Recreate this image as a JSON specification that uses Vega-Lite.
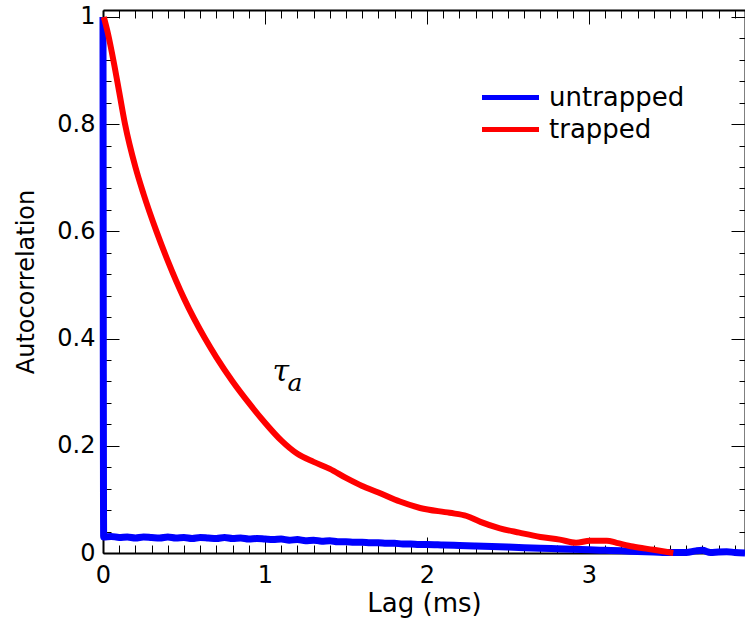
{
  "$schema": "https://vega.github.io/schema/vega-lite/v6.json",
  "width": 642,
  "height": 543,
  "autosize": {"type": "none"},
  "padding": {"left": 103, "top": 10, "right": 0, "bottom": 69},
  "background": "white",
  "config": {
    "view": {"stroke": null},
    "axis": {"domainColor": "black", "domainWidth": 2, "tickColor": "black", "tickWidth": 1, "labelColor": "black", "titleColor": "black", "labelFont": "DejaVu Sans", "titleFont": "DejaVu Sans", "grid": false, "labelOverlap": false, "labelFlush": false}
  },
  "datasets": {
    "curves": [
      {"lag": 0, "r": 1.0, "series": "untrapped"},
      {"lag": 0.004, "r": 0.03, "series": "untrapped"},
      {"lag": 0.05, "r": 0.031, "series": "untrapped"},
      {"lag": 0.1, "r": 0.029, "series": "untrapped"},
      {"lag": 0.15, "r": 0.03, "series": "untrapped"},
      {"lag": 0.2, "r": 0.028, "series": "untrapped"},
      {"lag": 0.25, "r": 0.03, "series": "untrapped"},
      {"lag": 0.3, "r": 0.029, "series": "untrapped"},
      {"lag": 0.35, "r": 0.028, "series": "untrapped"},
      {"lag": 0.4, "r": 0.03, "series": "untrapped"},
      {"lag": 0.45, "r": 0.028, "series": "untrapped"},
      {"lag": 0.5, "r": 0.029, "series": "untrapped"},
      {"lag": 0.55, "r": 0.027, "series": "untrapped"},
      {"lag": 0.6, "r": 0.029, "series": "untrapped"},
      {"lag": 0.65, "r": 0.028, "series": "untrapped"},
      {"lag": 0.7, "r": 0.027, "series": "untrapped"},
      {"lag": 0.75, "r": 0.029, "series": "untrapped"},
      {"lag": 0.8, "r": 0.027, "series": "untrapped"},
      {"lag": 0.85, "r": 0.028, "series": "untrapped"},
      {"lag": 0.9, "r": 0.026, "series": "untrapped"},
      {"lag": 0.95, "r": 0.027, "series": "untrapped"},
      {"lag": 1.0, "r": 0.026, "series": "untrapped"},
      {"lag": 1.05, "r": 0.025, "series": "untrapped"},
      {"lag": 1.1, "r": 0.026, "series": "untrapped"},
      {"lag": 1.15, "r": 0.024, "series": "untrapped"},
      {"lag": 1.2, "r": 0.025, "series": "untrapped"},
      {"lag": 1.25, "r": 0.023, "series": "untrapped"},
      {"lag": 1.3, "r": 0.024, "series": "untrapped"},
      {"lag": 1.35, "r": 0.022, "series": "untrapped"},
      {"lag": 1.4, "r": 0.023, "series": "untrapped"},
      {"lag": 1.45, "r": 0.021, "series": "untrapped"},
      {"lag": 1.5, "r": 0.021, "series": "untrapped"},
      {"lag": 1.55, "r": 0.02, "series": "untrapped"},
      {"lag": 1.6, "r": 0.02, "series": "untrapped"},
      {"lag": 1.65, "r": 0.019, "series": "untrapped"},
      {"lag": 1.7, "r": 0.019, "series": "untrapped"},
      {"lag": 1.75, "r": 0.018, "series": "untrapped"},
      {"lag": 1.8, "r": 0.018, "series": "untrapped"},
      {"lag": 1.85, "r": 0.017, "series": "untrapped"},
      {"lag": 1.9, "r": 0.017, "series": "untrapped"},
      {"lag": 1.95, "r": 0.016, "series": "untrapped"},
      {"lag": 2.0, "r": 0.016, "series": "untrapped"},
      {"lag": 2.1, "r": 0.015, "series": "untrapped"},
      {"lag": 2.2, "r": 0.014, "series": "untrapped"},
      {"lag": 2.3, "r": 0.013, "series": "untrapped"},
      {"lag": 2.4, "r": 0.012, "series": "untrapped"},
      {"lag": 2.5, "r": 0.011, "series": "untrapped"},
      {"lag": 2.6, "r": 0.01, "series": "untrapped"},
      {"lag": 2.7, "r": 0.009, "series": "untrapped"},
      {"lag": 2.8, "r": 0.008, "series": "untrapped"},
      {"lag": 2.9, "r": 0.007, "series": "untrapped"},
      {"lag": 3.0, "r": 0.006, "series": "untrapped"},
      {"lag": 3.1, "r": 0.005, "series": "untrapped"},
      {"lag": 3.2, "r": 0.004, "series": "untrapped"},
      {"lag": 3.3, "r": 0.003, "series": "untrapped"},
      {"lag": 3.4, "r": 0.002, "series": "untrapped"},
      {"lag": 3.5, "r": 0.001, "series": "untrapped"},
      {"lag": 3.6, "r": 0.001, "series": "untrapped"},
      {"lag": 3.66, "r": 0.004, "series": "untrapped"},
      {"lag": 3.7, "r": 0.005, "series": "untrapped"},
      {"lag": 3.75, "r": 0.001, "series": "untrapped"},
      {"lag": 3.8, "r": 0.002, "series": "untrapped"},
      {"lag": 3.85, "r": 0.0025, "series": "untrapped"},
      {"lag": 3.9, "r": 0.001, "series": "untrapped"},
      {"lag": 3.963, "r": 0.0, "series": "untrapped"},
      {"lag": 0.005, "r": 1.0, "series": "trapped"},
      {"lag": 0.03, "r": 0.97, "series": "trapped"},
      {"lag": 0.07, "r": 0.91, "series": "trapped"},
      {"lag": 0.1, "r": 0.86, "series": "trapped"},
      {"lag": 0.136, "r": 0.8, "series": "trapped"},
      {"lag": 0.2, "r": 0.72, "series": "trapped"},
      {"lag": 0.25, "r": 0.67, "series": "trapped"},
      {"lag": 0.33, "r": 0.6, "series": "trapped"},
      {"lag": 0.4, "r": 0.545, "series": "trapped"},
      {"lag": 0.5, "r": 0.475, "series": "trapped"},
      {"lag": 0.63, "r": 0.4, "series": "trapped"},
      {"lag": 0.7, "r": 0.365, "series": "trapped"},
      {"lag": 0.8, "r": 0.32, "series": "trapped"},
      {"lag": 0.9, "r": 0.28, "series": "trapped"},
      {"lag": 1.0, "r": 0.243, "series": "trapped"},
      {"lag": 1.1, "r": 0.21, "series": "trapped"},
      {"lag": 1.2, "r": 0.185, "series": "trapped"},
      {"lag": 1.3, "r": 0.17, "series": "trapped"},
      {"lag": 1.4, "r": 0.157, "series": "trapped"},
      {"lag": 1.5, "r": 0.14, "series": "trapped"},
      {"lag": 1.6, "r": 0.125, "series": "trapped"},
      {"lag": 1.7, "r": 0.113, "series": "trapped"},
      {"lag": 1.833, "r": 0.096, "series": "trapped"},
      {"lag": 1.957, "r": 0.084, "series": "trapped"},
      {"lag": 2.14, "r": 0.075, "series": "trapped"},
      {"lag": 2.245, "r": 0.069, "series": "trapped"},
      {"lag": 2.33, "r": 0.058, "series": "trapped"},
      {"lag": 2.45, "r": 0.046, "series": "trapped"},
      {"lag": 2.57, "r": 0.038, "series": "trapped"},
      {"lag": 2.7, "r": 0.03, "series": "trapped"},
      {"lag": 2.82, "r": 0.025, "series": "trapped"},
      {"lag": 2.92, "r": 0.019, "series": "trapped"},
      {"lag": 3.006, "r": 0.023, "series": "trapped"},
      {"lag": 3.11, "r": 0.023, "series": "trapped"},
      {"lag": 3.17, "r": 0.019, "series": "trapped"},
      {"lag": 3.27, "r": 0.012, "series": "trapped"},
      {"lag": 3.4, "r": 0.006, "series": "trapped"},
      {"lag": 3.52, "r": 0.0, "series": "trapped"}
    ]
  },
  "layer": [
    {
      "data": {"name": "curves"},
      "transform": [{"filter": "datum.series == 'untrapped'"}],
      "mark": {"type": "line", "interpolate": "monotone", "strokeWidth": 7},
      "encoding": {
        "x": {
          "field": "lag", "type": "quantitative",
          "scale": {"domain": [0, 3.963], "nice": false, "zero": false},
          "axis": {
            "orient": "bottom", "title": "Lag (ms)", "titleFontSize": 26, "titleFontWeight": "normal", "titlePadding": -5,
            "labelFontSize": 24, "labelPadding": 26,
            "values": [0,0.1,0.2,0.3,0.4,0.5,0.6,0.7,0.8,0.9,1,1.1,1.2,1.3,1.4,1.5,1.6,1.7,1.8,1.9,2,2.1,2.2,2.3,2.4,2.5,2.6,2.7,2.8,2.9,3,3.1,3.2,3.3,3.4,3.5,3.6,3.7,3.8,3.9],
            "labelExpr": "datum.value % 1 == 0 ? format(datum.value, 'd') : ''",
            "tickSize": {"condition": {"test": "datum.value % 1 == 0", "value": -16}, "value": -8}
          }
        },
        "y": {
          "field": "r", "type": "quantitative",
          "scale": {"domain": [0, 1.013], "nice": false, "zero": false},
          "axis": {
            "orient": "left", "title": "Autocorrelation", "titleFontSize": 24, "titleFontWeight": "normal", "titlePadding": 18,
            "labelFontSize": 24, "labelPadding": 24,
            "values": [0,0.04,0.08,0.12,0.16,0.2,0.24,0.28,0.32,0.36,0.4,0.44,0.48,0.52,0.56,0.6,0.64,0.68,0.72,0.76,0.8,0.84,0.88,0.92,0.96,1],
            "labelExpr": "abs(datum.value*5 - round(datum.value*5)) < 0.001 ? format(datum.value, '~g') : ''",
            "tickSize": {"condition": {"test": "abs(datum.value*5 - round(datum.value*5)) < 0.001", "value": -16}, "value": -8}
          }
        },
        "color": {
          "field": "series", "type": "nominal",
          "scale": {"domain": ["untrapped", "trapped"], "range": ["#0000ff", "#ff0000"]},
          "legend": {
            "title": null, "orient": "none", "legendX": 394.5, "legendY": 74.5, "padding": 0,
            "symbolType": "M-2.85,0H2.85", "symbolSize": 400, "symbolStrokeWidth": 5,
            "labelFont": "DejaVu Sans", "labelFontSize": 26, "labelColor": "black", "labelOffset": 25.5, "rowPadding": 6
          }
        },
        "order": {"field": "lag", "type": "quantitative"}
      }
    },
    {
      "data": {"name": "curves"},
      "transform": [{"filter": "datum.series == 'trapped'"}],
      "mark": {"type": "line", "interpolate": "monotone", "strokeWidth": 6},
      "encoding": {
        "x": {"field": "lag", "type": "quantitative", "axis": null},
        "y": {"field": "r", "type": "quantitative", "axis": null},
        "color": {"field": "series", "type": "nominal"},
        "order": {"field": "lag", "type": "quantitative"}
      }
    },
    {
      "data": {"values": [{"label": "τ"}]},
      "mark": {"type": "text", "font": "DejaVu Serif", "fontStyle": "italic", "fontSize": 30, "align": "center", "baseline": "middle"},
      "encoding": {
        "text": {"field": "label"},
        "x": {
          "datum": 1.097, "type": "quantitative",
          "axis": {
            "orient": "top", "title": null, "labels": false, "domainWidth": 2,
            "values": [0,0.1,0.2,0.3,0.4,0.5,0.6,0.7,0.8,0.9,1,1.1,1.2,1.3,1.4,1.5,1.6,1.7,1.8,1.9,2,2.1,2.2,2.3,2.4,2.5,2.6,2.7,2.8,2.9,3,3.1,3.2,3.3,3.4,3.5,3.6,3.7,3.8,3.9],
            "tickSize": {"condition": {"test": "datum.value % 1 == 0", "value": -14}, "value": -8}
          }
        },
        "y": {
          "datum": 0.338, "type": "quantitative",
          "axis": {
            "orient": "right", "title": null, "labels": false,
            "values": [0,0.04,0.08,0.12,0.16,0.2,0.24,0.28,0.32,0.36,0.4,0.44,0.48,0.52,0.56,0.6,0.64,0.68,0.72,0.76,0.8,0.84,0.88,0.92,0.96,1],
            "tickSize": {"condition": {"test": "abs(datum.value*5 - round(datum.value*5)) < 0.001", "value": -14}, "value": -6}
          }
        }
      }
    },
    {
      "data": {"values": [{"label": "a"}]},
      "mark": {"type": "text", "font": "DejaVu Serif", "fontStyle": "italic", "fontSize": 25, "align": "center", "baseline": "middle"},
      "encoding": {
        "text": {"field": "label"},
        "x": {"datum": 1.185, "type": "quantitative", "axis": null},
        "y": {"datum": 0.3166, "type": "quantitative", "axis": null}
      }
    }
  ],
  "resolve": {"axis": {"x": "independent", "y": "independent"}}
}
